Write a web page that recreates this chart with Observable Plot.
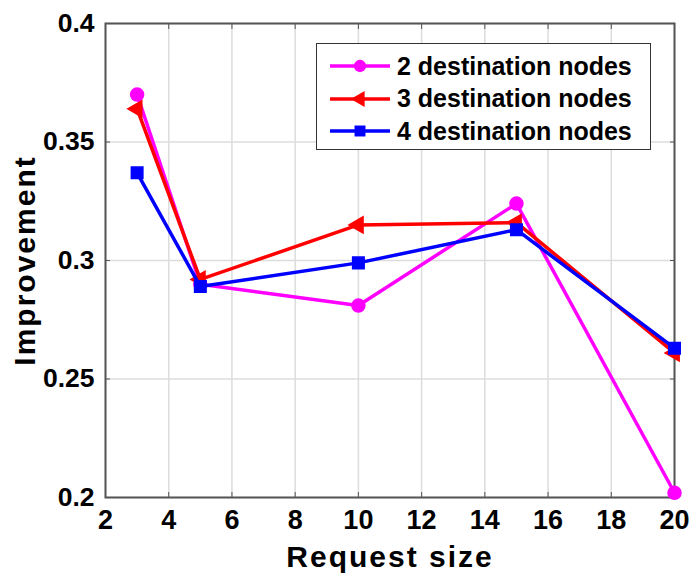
<!DOCTYPE html>
<html>
<head>
<meta charset="utf-8">
<script src="https://cdn.jsdelivr.net/npm/d3@7"></script>
<script src="https://cdn.jsdelivr.net/npm/@observablehq/plot@0.6"></script>
<style>
  html, body { margin: 0; padding: 0; background: #fff; }
  #wrap { position: relative; width: 689px; height: 574px; font-family: "Liberation Sans", Arial, sans-serif; }
  #legend { position: absolute; left: 316px; top: 43px; width: 335px; height: 107px; border: 1.8px solid #333; background: #fff; box-sizing: border-box; padding-top: 6px; }
  .row { display: flex; align-items: center; height: 32.5px; font-weight: bold; font-size: 25px; color: #000; }
  .row svg { margin-left: 11px; margin-right: 5px; }
</style>
</head>
<body>
<div id="wrap"></div>
<script>
const xValues = [3, 5, 10, 15, 20];
const seriesNames = ["2 destination nodes", "3 destination nodes", "4 destination nodes"];
const dest2 = [0.370, 0.290, 0.281, 0.324, 0.202];
const dest3 = [0.364, 0.292, 0.315, 0.316, 0.261];
const dest4 = [0.337, 0.289, 0.299, 0.313, 0.263];
const xTicks = [2, 4, 6, 8, 10, 12, 14, 16, 18, 20];
const yTicks = [0.2, 0.25, 0.3, 0.35, 0.4];
const xLabel = "Request size";
const yLabel = "Improvement";
const colors = ["#ff00ff", "#ff0000", "#0000ff"];
const symbols = ["circle", "triangle", "square"];
const rotations = [0, -90, 0];
const sizes = [6.5, 6, 6.5];

const allSeries = [dest2, dest3, dest4];
const data = [];
allSeries.forEach((vals, si) => vals.forEach((v, i) => data.push({series: seriesNames[si], x: xValues[i], y: v, si})));

const blank = () => "";
const marks = [
  Plot.gridX(xTicks, {stroke: "#dcdcdc", strokeOpacity: 1, strokeWidth: 1.5}),
  Plot.gridY(yTicks, {stroke: "#dcdcdc", strokeOpacity: 1, strokeWidth: 1.5}),
  Plot.axisX(xTicks, {anchor: "bottom", tickSize: -5, tickFormat: blank, label: null, stroke: "#555"}),
  Plot.axisX(xTicks, {anchor: "top", tickSize: -5, tickFormat: blank, label: null, stroke: "#555"}),
  Plot.axisY(yTicks, {anchor: "left", tickSize: -5, tickFormat: blank, label: null, stroke: "#555"}),
  Plot.axisY(yTicks, {anchor: "right", tickSize: -5, tickFormat: blank, label: null, stroke: "#555"}),
  Plot.axisX(xTicks, {anchor: "bottom", tickSize: 0, tickPadding: 12, fontSize: 27, label: xLabel, labelAnchor: "center", labelArrow: "none", labelOffset: 69}),
  Plot.axisY(yTicks, {anchor: "left", tickSize: 0, tickPadding: 11, fontSize: 26.5, tickFormat: d => String(d), label: yLabel, labelAnchor: "center", labelArrow: "none", labelOffset: 92}),
  Plot.frame({stroke: "#555", strokeWidth: 2})
];
seriesNames.forEach((name, si) => {
  const d = data.filter(p => p.si === si);
  marks.push(Plot.line(d, {x: "x", y: "y", stroke: colors[si], strokeWidth: 3.5}));
  marks.push(Plot.dot(d, {x: "x", y: "y", fill: colors[si], stroke: colors[si], symbol: symbols[si], r: sizes[si], rotate: rotations[si]}));
});

const chart = Plot.plot({
  width: 689,
  height: 574,
  marginLeft: 105,
  marginTop: 23,
  marginRight: 15,
  marginBottom: 77,
  style: {fontFamily: "'Liberation Sans', Arial, sans-serif", fontWeight: "bold", fontSize: "26.5px", color: "#000", background: "#fff"},
  x: {domain: [2, 20]},
  y: {domain: [0.2, 0.4]},
  marks
});
const xTickText = new Set(xTicks.map(String));
const yTickText = new Set(yTicks.map(String));
d3.select(chart).selectAll("text").each(function() {
  const t = this.textContent.trim();
  const sel = d3.select(this);
  if (t === xLabel || t === yLabel) {
    sel.style("font-size", "30px").attr("letter-spacing", "2px");
  } else if (yTickText.has(t)) {
    sel.style("font-size", "26.5px");
  } else if (xTickText.has(t)) {
    sel.style("font-size", "27px");
  }
});
document.getElementById("wrap").appendChild(chart);

const legend = document.createElement("div");
legend.id = "legend";
seriesNames.forEach((name, si) => {
  const row = document.createElement("div");
  row.className = "row";
  const sym = d3.symbol(d3["symbol" + symbols[si][0].toUpperCase() + symbols[si].slice(1)], si === 1 ? 110 : 120)();
  row.innerHTML = `<svg width="64" height="24"><line x1="2" x2="62" y1="12" y2="12" stroke="${colors[si]}" stroke-width="3.5"/><path d="${sym}" transform="translate(32,12) rotate(${rotations[si]})" fill="${colors[si]}"/></svg><span>${name}</span>`;
  legend.appendChild(row);
});
document.getElementById("wrap").appendChild(legend);
</script>
</body>
</html>
